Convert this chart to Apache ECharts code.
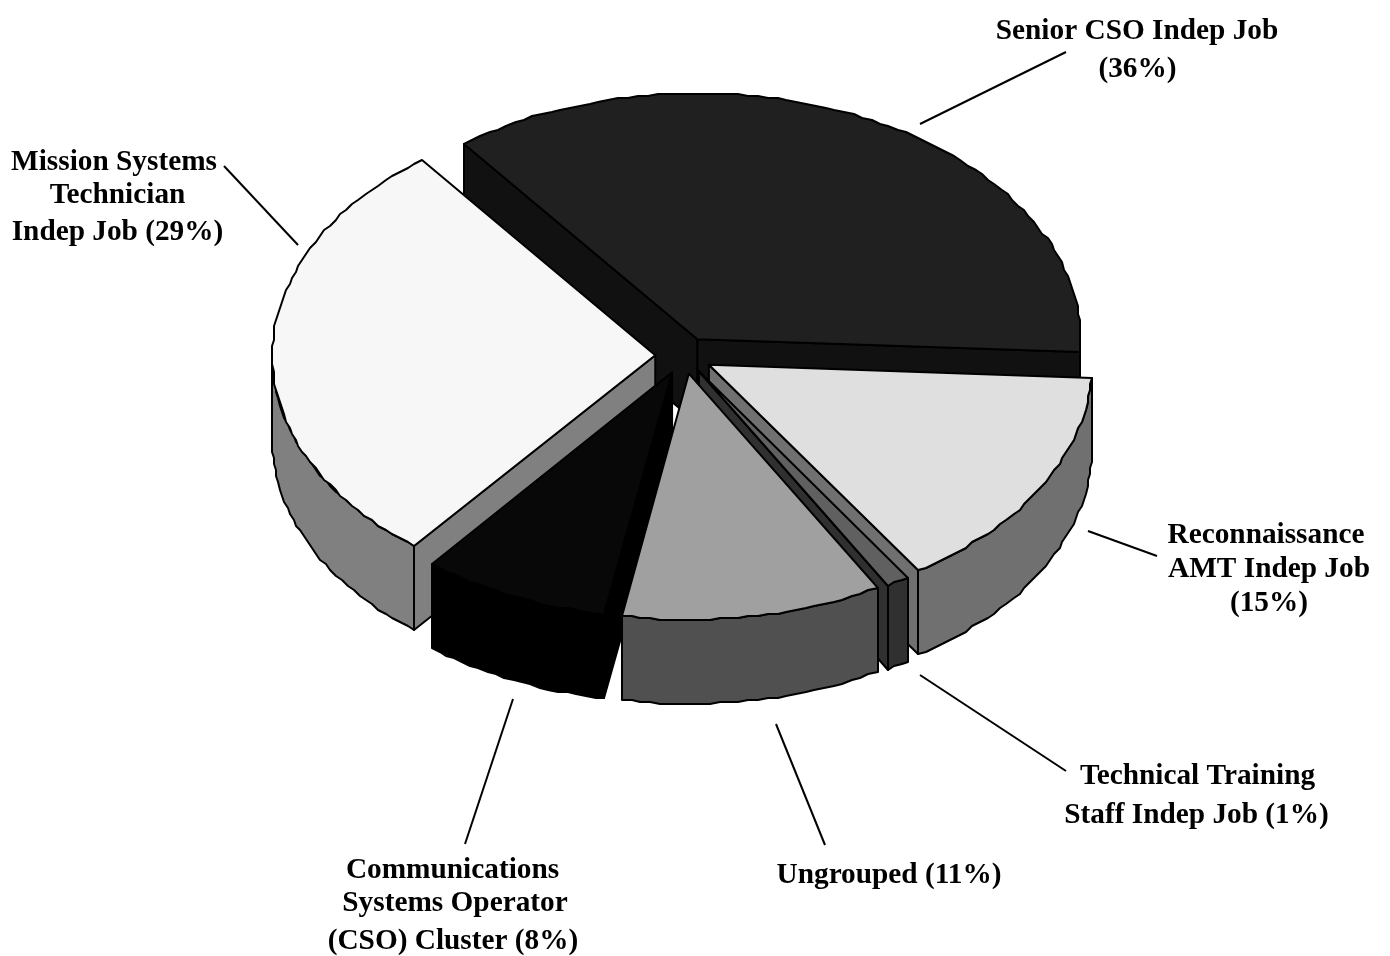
<!DOCTYPE html>
<html>
<head>
<meta charset="utf-8">
<title>Job groups</title>
<style>
html, body { margin: 0; padding: 0; background: #fff; }
#chart { width: 1390px; height: 956px; }
</style>
<script src="https://cdn.jsdelivr.net/npm/echarts@6/dist/echarts.min.js"></script>
</head>
<body>
<div id="chart"></div>
<script>
// clockwise from the slice that starts at the upper left
var categories = [
	"Senior CSO Indep Job\n",
	"Reconnaissance\nAMT Indep Job\n",
	"Technical Training\nStaff Indep Job ",
	"Ungrouped ",
	"Communications\nSystems Operator\n(CSO) Cluster ",
	"Mission Systems\nTechnician\nIndep Job "
];
// the labels show them rounded
var values = [36.2, 15, 1, 11, 8, 28.8];

var topColors = ["#202020", "#dfdfdf", "#606060", "#a0a0a0", "#080808", "#f7f7f7"];
var sideColors = ["#111111", "#707070", "#303030", "#505050", "#000000", "#808080"];

// painter's order, back to front
var drawOrder = [0, 5, 1, 2, 4, 3];

// centre x and baseline y of every label line
var labelLines = [
	[[1137, 38], [1137.5, 76]],
	[[1266, 542], [1269, 576], [1269, 610]],
	[[1197.5, 783], [1196.5, 822]],
	[[889, 882]],
	[[452.5, 877], [455, 910], [453, 948]],
	[[114, 169], [117.5, 202], [117.5, 239]]
];
var leaders = [
	[1066, 52, 920, 124],
	[1088, 531, 1157, 556],
	[920, 675, 1066, 771],
	[776, 724, 825, 845],
	[513, 699, 465, 844],
	[224, 166, 298, 245]
];

var pie = { cx: 684, cy: 355.5, rx: 383, ry: 246, depth: 84, explode: 0.075, start: -37.4 };

var total = values.reduce(function(a, b) { return a + b; }, 0);
var starts = [];
var acc = pie.start;
for (var i = 0; i < values.length; i++) {
	starts.push(acc);
	acc += values[i] / total * 360;
}

function rad(deg) {
	return deg * Math.PI / 180;
}

// the rim of the source picture is visibly stepped, so snap it to a coarse grid
function snap(v) {
	return Math.round(v / 2) * 2;
}

function rim(c, deg) {
	return [snap(c[0] + pie.rx * Math.sin(rad(deg))), snap(c[1] - pie.ry * Math.cos(rad(deg)))];
}

function arc(c, from, to) {
	var pts = [];
	var steps = Math.max(1, Math.ceil((to - from) / 1.5));
	for (var k = 0; k <= steps; k++) {
		pts.push(rim(c, from + (to - from) * k / steps));
	}
	return pts;
}

function down(pts) {
	return pts.map(function(p) { return [p[0], p[1] + pie.depth]; }).reverse();
}

function poly(pts, fill) {
	return {
		type: "polygon",
		shape: { points: pts },
		style: { fill: fill, stroke: "#000", lineWidth: 2, lineJoin: "round" }
	};
}

function renderSlice(params, api) {
	var idx = api.value(0);
	var a = starts[idx];
	var b = a + api.value(1) / total * 360;
	var mid = rad((a + b) / 2);
	var c = [
		pie.cx + pie.explode * pie.rx * Math.sin(mid),
		pie.cy - pie.explode * pie.ry * Math.cos(mid)
	];
	var side = sideColors[idx];
	var children = [];

	// cut faces that look towards the viewer
	var na = ((a % 360) + 360) % 360;
	var nb = ((b % 360) + 360) % 360;
	if (na > 180) {
		var ea = [c, rim(c, a)];
		children.push(poly(ea.concat(down(ea)), side));
	}
	if (nb < 180) {
		var eb = [c, rim(c, b)];
		children.push(poly(eb.concat(down(eb)), side));
	}

	// outer wall, front half of the ellipse only
	var from = a, to = b;
	if (a < 90) from = Math.max(a, 90);
	if (b > 270) to = Math.min(b, 270);
	if (to > from) {
		var wall = arc(c, from, to);
		children.push(poly(wall.concat(down(wall)), side));
	}

	children.push(poly([c].concat(arc(c, a, b)), topColors[idx]));

	var l = leaders[idx];
	children.push({
		type: "line",
		shape: { x1: l[0], y1: l[1], x2: l[2], y2: l[3] },
		style: { stroke: "#000", lineWidth: 2 }
	});

	var lines = (categories[idx] + "(" + Math.round(values[idx]) + "%)").split("\n");
	lines.forEach(function(text, n) {
		children.push({
			type: "text",
			x: labelLines[idx][n][0],
			y: labelLines[idx][n][1] - 7,
			style: {
				text: text,
				fill: "#000",
				font: "bold 29.3px 'Liberation Serif'",
				align: "center",
				verticalAlign: "middle"
			}
		});
	});
	return { type: "group", children: children };
}

var chart = echarts.init(document.getElementById("chart"));
chart.setOption({
	backgroundColor: "#fff",
	animation: false,
	series: [{
		type: "custom",
		coordinateSystem: "none",
		silent: true,
		renderItem: renderSlice,
		data: drawOrder.map(function(i) { return [i, values[i]]; })
	}]
});
</script>
</body>
</html>
